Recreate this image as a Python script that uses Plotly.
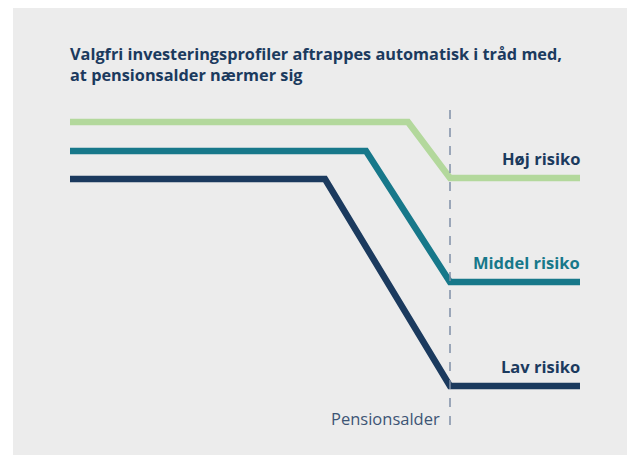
import plotly.graph_objects as go

# Abstract timeline (years) and risk level (0-100)
x_end = 51
pension_x = 38

profiles = ["Høj risiko", "Middel risiko", "Lav risiko"]
x_high = [0, 33.8, 38, 51]
y_high = [93.2, 93.2, 76.0, 76.0]
x_mid = [0, 29.6, 38, 51]
y_mid = [84.3, 84.3, 44.0, 44.0]
x_low = [0, 25.5, 38, 51]
y_low = [75.7, 75.7, 12.0, 12.0]

colors = ["#b3d89c", "#17788a", "#1b3a5e"]
label_colors = ["#1b3a5e", "#17788a", "#1b3a5e"]
title_lines = ["Valgfri investeringsprofiler aftrappes automatisk i tråd med,",
               "at pensionsalder nærmer sig"]
pension_label = "Pensionsalder"

FONT = "Open Sans"

fig = go.Figure()
for xs, ys, c, name in zip([x_high, x_mid, x_low], [y_high, y_mid, y_low], colors, profiles):
    fig.add_trace(go.Scatter(x=xs, y=ys, mode="lines", line=dict(color=c, width=6.5),
                             name=name, showlegend=False, hoverinfo="skip"))

# labels
for ys, lc, name in zip([y_high, y_mid, y_low], label_colors, profiles):
    fig.add_annotation(x=x_end, y=ys[-1], text=f"<b>{name}</b>", showarrow=False,
                       xanchor="right", yanchor="middle", yshift=20, xshift=2,
                       font=dict(family=FONT, size=16.5, color=lc))

fig.add_annotation(x=pension_x, y=0, text=pension_label, showarrow=False,
                   xanchor="right", yanchor="middle", xshift=-8, yshift=7,
                   font=dict(family=FONT, size=16.5, color="#3d5575"))

for i, line in enumerate(title_lines):
    fig.add_annotation(x=0, y=(417 - 46 - 21 * i) / 325, xref="paper", yref="paper",
                       text=f"<b>{line}</b>", showarrow=False, xanchor="left",
                       yanchor="middle", align="left", xshift=-2,
                       font=dict(family=FONT, size=16.3, color="#1b3a5e"))

# background panel
fig.add_shape(type="rect", xref="paper", yref="paper", x0=-57/510, x1=1.2, y0=-0.2, y1=1.4,
              fillcolor="#ececec", line=dict(width=0), layer="below")
# pension dashed line
fig.add_shape(type="line", x0=pension_x, x1=pension_x, y0=0, y1=99,
              line=dict(color="#7f8fa6", width=1.5, dash="dash"))

fig.update_layout(
    width=627, height=447,
    margin=dict(l=62, r=55, t=92, b=30),
    paper_bgcolor="white", plot_bgcolor="rgba(0,0,0,0)",
    xaxis=dict(range=[0, x_end], visible=False, showgrid=False, zeroline=False),
    yaxis=dict(range=[0, 100], visible=False, showgrid=False, zeroline=False),
)
fig.write_html("out.html")
